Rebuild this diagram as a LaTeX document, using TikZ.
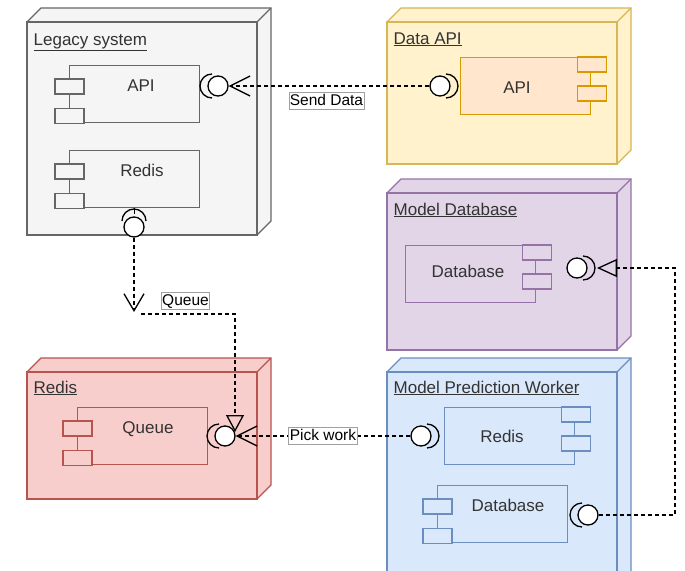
\documentclass[tikz,border=0pt]{standalone}
\usepackage{fontspec}
\setmainfont{Liberation Sans}
\usetikzlibrary{arrows.meta,fit,calc}
\definecolor{txt}{HTML}{333333}
\definecolor{lblgray}{HTML}{A0A0A0}
\definecolor{grayF}{HTML}{F5F5F5}\definecolor{grayD}{HTML}{666666}
\definecolor{yelF}{HTML}{FFF2CC}\definecolor{yelD}{HTML}{D6B656}
\definecolor{orF}{HTML}{FFE6CC}\definecolor{orD}{HTML}{D79B00}
\definecolor{purF}{HTML}{E1D5E7}\definecolor{purD}{HTML}{9673A6}
\definecolor{redF}{HTML}{F8CECC}\definecolor{redD}{HTML}{B85450}
\definecolor{bluF}{HTML}{DAE8FC}\definecolor{bluD}{HTML}{6C8EBF}
% 3D deployment node: name, x1, y1, x2, y2, style
\newcommand\udcube[6]{%
  \path[#6] (#2,#3) -- (#2+14,#3-14) -- (#4+14,#3-14) -- (#4+14,#5-14) -- (#4,#5) -- cycle;
  \node[#6, fit={(#2,#3) (#4,#5)}, inner sep=0pt, rectangle] (#1) {};
  \draw[#6] (#4,#3) -- (#4+14,#3-14);
}
% component with small rectangles on the left
\newcommand\compL[4]{%
  \node[#4, anchor=north west, inner sep=0pt, minimum width=130pt, minimum height=57pt] (#1) at (#2,#3) {};
  \path[#4] ([shift={(-14pt,-14pt)}]#1.north west) rectangle ++(29,15);
  \path[#4] ([shift={(-14pt,0pt)}]#1.south west) rectangle ++(29,-15);
}
% component with small rectangles on the right
\newcommand\compR[4]{%
  \node[#4, anchor=north west, inner sep=0pt, minimum width=130pt, minimum height=57pt] (#1) at (#2,#3) {};
  \path[#4] ([shift={(-14pt,0pt)}]#1.north east) rectangle ++(29,15);
  \path[#4] ([shift={(-14pt,-29pt)}]#1.north east) rectangle ++(29,15);
}
\newcommand\sockL[1]{\draw[sock] ([shift={(-6pt,12pt)}]#1.center) arc[start angle=90,end angle=270,radius=12pt];}
\newcommand\sockR[1]{\draw[sock] ([shift={(6pt,12pt)}]#1.center) arc[start angle=90,end angle=-90,radius=12pt];}
\newcommand\sockU[1]{\draw[sock] ([shift={(-12pt,6pt)}]#1.center) arc[start angle=180,end angle=0,radius=12pt];}
\begin{document}
\begin{tikzpicture}[x=1pt,y=-1pt,line width=1.3pt,
  every node/.style={text=txt},
  grayst/.style={fill=grayF,draw=grayD},
  yelst/.style={fill=yelF,draw=yelD},
  orst/.style={fill=orF,draw=orD},
  purst/.style={fill=purF,draw=purD},
  redst/.style={fill=redF,draw=redD},
  blust/.style={fill=bluF,draw=bluD},
  ttl/.style={anchor=base west,inner sep=0pt,font=\fontsize{17}{20}\selectfont},
  ctext/.style={inner sep=0pt,text height=12.2pt,text depth=0pt,font=\fontsize{17}{20}\selectfont},
  iface/.style={circle,draw=black,fill=white,minimum size=20pt,inner sep=0pt,line width=1.3pt,solid},
  sock/.style={draw=black,line width=1.3pt},
  conn/.style={draw=black,line width=1.3pt,dash pattern=on 4pt off 3pt},
  lbl/.style={draw=lblgray,fill=white,solid,line width=0.7pt,inner xsep=1pt,inner ysep=1pt,
    text height=12pt,text depth=3pt,font=\fontsize{15.5}{18}\selectfont,text=black},
  vbarb/.style={-{Straight Barb[length=#1,width=20pt]}},
  opentri/.style={-{Triangle[open,length=#1,width=18pt]}}]
\useasboundingbox (0,0) rectangle (685,570);
\clip (0,0) rectangle (685,570);
\fill[white] (0,0) rectangle (685,570);

% deployment nodes
\udcube{legacy}{27}{22}{257}{235}{grayst}
\udcube{dataapi}{387}{22}{617}{164}{yelst}
\udcube{modeldb}{387}{193}{617}{350}{purst}
\udcube{redis}{27}{372}{257}{499}{redst}
\udcube{worker}{387}{372}{617}{600}{blust}

\node[ttl] (tlegacy) at (33,45) {\underline{Legacy system}};
\node[ttl] (tdata) at (393,44) {\underline{Data API}};
\node[ttl] (tmodel) at (393,215) {\underline{Model Database}};
\node[ttl] (tredis) at (33,393) {\underline{Redis}};
\node[ttl] (tworker) at (393,393) {\underline{Model Prediction Worker}};

% components
\compL{lapi}{69}{65}{grayst}
\compL{lredis}{69}{150}{grayst}
\compR{dapi}{460}{57}{orst}
\compR{mdb}{405}{245}{purst}
\compL{queue}{77}{407}{redst}
\compR{wredis}{444}{407}{blust}
\compL{wdb}{437}{485}{blust}

\node[ctext] (tlapi) at (141,85) {API};
\node[ctext] (tlredis) at (142,170) {Redis};
\node[ctext] (tdapi) at (517,87) {API};
\node[ctext] (tmdb) at (468,271) {Database};
\node[ctext] (tqueue) at (148,427) {Queue};
\node[ctext] (twredis) at (502,436) {Redis};
\node[ctext] (twdb) at (508,505) {Database};

% interfaces
\node[iface] (lapiI) at (218,86) {};
\node[iface] (lrI) at (134,227) {};
\node[iface] (dapiI) at (440,86) {};
\node[iface] (mdbI) at (577,268) {};
\node[iface] (qI) at (225,436) {};
\node[iface] (wrI) at (421,436) {};
\node[iface] (wdbI) at (588,515) {};
\sockL{lapiI}
\sockU{lrI}
\draw[sock] (lredis.south) -- ++(0,6);
\sockR{dapiI}
\sockR{mdbI}
\sockL{qI}
\sockR{wrI}
\sockL{wdbI}

% connectors
\draw[conn,vbarb=20pt] (dapiI.west) -- (lapiI.east);
\node[lbl] (sendlbl) at (326.5,100.5) {Send Data};

\coordinate (qv) at (134,312);
\draw[conn,vbarb=17pt] (lrI.south) -- (qv);
\coordinate (qs) at (141,314);
\coordinate (qt) at (235,432);
\draw[conn,opentri=17pt] (qs) -| (qt);
\node[lbl] (queuelbl) at (185.5,300.5) {Queue};

\draw[conn,vbarb=20pt] (wrI.west) -- node[lbl] (picklbl) {Pick work} (qI.east);

\coordinate (mc) at (675,268);
\coordinate (mt) at (597,268);
\draw[conn,opentri=20pt] (wdbI.east) -| (mc) -- (mt);
\end{tikzpicture}
\end{document}
